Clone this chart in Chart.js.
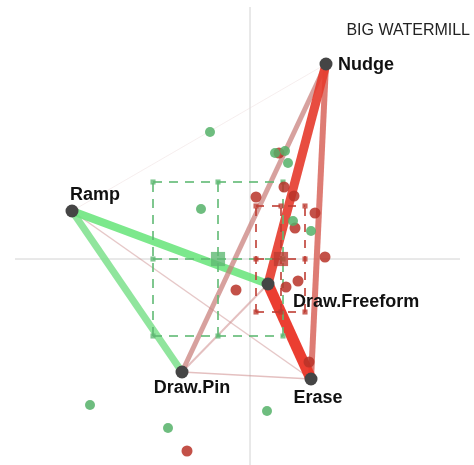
<!DOCTYPE html>
<html>
<head>
<meta charset="utf-8">
<script src="https://cdn.jsdelivr.net/npm/chart.js@4/dist/chart.umd.min.js"></script>
<style>
  html, body { margin: 0; padding: 0; background: #fff; }
  #wrap { width: 474px; height: 465px; }
</style>
</head>
<body>
<div id="wrap"><canvas id="c" width="474" height="465"></canvas></div>
<script>
// ---- data ----
const chartTitle = 'BIG WATERMILL';

const nodeNames = ['Nudge', 'Ramp', 'Draw.Freeform', 'Draw.Pin', 'Erase'];
const nodeX = [0.76, -1.78, 0.18, -0.68, 0.61];
const nodeY = [1.95, 0.48, -0.25, -1.13, -1.20];

// transitions between tools, back to front
const edgeFrom = ['Nudge', 'Ramp', 'Draw.Pin', 'Draw.Pin', 'Ramp', 'Ramp', 'Nudge', 'Nudge', 'Nudge', 'Draw.Freeform'];
const edgeTo   = ['Ramp', 'Erase', 'Erase', 'Draw.Freeform', 'Draw.Pin', 'Draw.Freeform', 'Draw.Pin', 'Erase', 'Draw.Freeform', 'Erase'];

// individual sessions
const greenX = [-0.40, -0.49, 0.25, 0.35, 0.38, 0.43, 0.61, -1.60, -0.82, 0.17];
const greenY = [1.27, 0.50, 1.06, 1.08, 0.96, 0.38, 0.28, -1.46, -1.69, -1.52];
const redX = [0.29, 0.34, 0.06, 0.44, 0.65, 0.45, 0.75, 0.48, 0.36, -0.14, 0.59, -0.63];
const redY = [1.06, 0.72, 0.62, 0.63, 0.46, 0.31, 0.02, -0.22, -0.28, -0.31, -1.03, -1.92];

// group means with spread: [green, red]
const groupCx = [-0.32, 0.31];
const groupCy = [0.00, 0.00];
const groupXlo = [-0.97, 0.06];
const groupXhi = [0.33, 0.55];
const groupYlo = [-0.77, -0.53];
const groupYhi = [0.77, 0.53];

// reference cross
const crossX = [-2.35, 2.10];
const crossY = [-2.10, 2.52];

// ---- styles ----
const edgeStyles = [
  { color: 'rgba(235,218,218,0.45)', width: 1 },
  { color: 'rgba(205,145,145,0.5)', width: 1.5 },
  { color: 'rgba(205,140,140,0.55)', width: 1.5 },
  { color: 'rgba(205,140,140,0.55)', width: 2 },
  { color: 'rgba(125,225,140,0.85)', width: 7 },
  { color: 'rgba(110,230,128,0.9)', width: 8 },
  { color: 'rgba(200,125,120,0.72)', width: 5 },
  { color: 'rgba(215,95,85,0.82)', width: 6 },
  { color: 'rgba(230,62,48,0.92)', width: 9 },
  { color: 'rgba(234,52,38,0.95)', width: 11 }
];
const groupColors = ['rgba(95,185,115,0.8)', 'rgba(190,60,50,0.8)'];
const groupDash = [[9, 7], [8, 8]];
// label placement relative to each node: dx, dy (px), alignment
const labelPlace = [
  { dx: 12, dy: 1, align: 'left' },
  { dx: -2, dy: -16, align: 'left' },
  { dx: 25, dy: 18, align: 'left' },
  { dx: 10, dy: 16, align: 'center' },
  { dx: 7, dy: 19, align: 'center' }
];

// ---- build datasets ----
const idx = n => nodeNames.indexOf(n);
const datasets = [];

datasets.push({
  showLine: true, data: [{ x: crossX[0], y: 0 }, { x: crossX[1], y: 0 }],
  borderColor: '#d2d2d2', borderWidth: 1, pointRadius: 0, order: 500
});
datasets.push({
  showLine: true, data: [{ x: 0, y: crossY[0] }, { x: 0, y: crossY[1] }],
  borderColor: '#d2d2d2', borderWidth: 1, pointRadius: 0, order: 500
});

edgeFrom.forEach((f, i) => {
  const a = idx(f), b = idx(edgeTo[i]);
  datasets.push({
    showLine: true,
    data: [{ x: nodeX[a], y: nodeY[a] }, { x: nodeX[b], y: nodeY[b] }],
    borderColor: edgeStyles[i].color, borderWidth: edgeStyles[i].width,
    pointRadius: 0, order: 300 - i
  });
});

groupCx.forEach((cx, g) => {
  const xs = [groupXlo[g], cx, groupXhi[g]];
  const ys = [groupYlo[g], groupCy[g], groupYhi[g]];
  ys.forEach(y => datasets.push({
    showLine: true, data: [{ x: xs[0], y }, { x: xs[2], y }],
    borderColor: groupColors[g], borderWidth: 2, borderDash: groupDash[g],
    pointRadius: 0, order: 100 - g
  }));
  xs.forEach(x => datasets.push({
    showLine: true, data: [{ x, y: ys[0] }, { x, y: ys[2] }],
    borderColor: groupColors[g], borderWidth: 2, borderDash: groupDash[g],
    pointRadius: 0, order: 100 - g
  }));
  const caps = [];
  xs.forEach((x, i) => ys.forEach((y, j) => { if (!(i === 1 && j === 1)) caps.push({ x, y }); }));
  datasets.push({
    data: caps, pointStyle: 'rect', pointRadius: 3.6, borderWidth: 0,
    backgroundColor: groupColors[g], order: 90 - g
  });
  datasets.push({
    data: [{ x: cx, y: groupCy[g] }], pointStyle: 'rect', pointRadius: 10, borderWidth: 0,
    backgroundColor: groupColors[g], order: 80 - g
  });
});

datasets.push({
  data: greenX.map((x, i) => ({ x, y: greenY[i] })),
  pointRadius: 5, borderWidth: 0, backgroundColor: 'rgba(85,178,105,0.85)', order: 20
});
datasets.push({
  data: redX.map((x, i) => ({ x, y: redY[i] })),
  pointRadius: 5.5, borderWidth: 0, backgroundColor: 'rgba(185,50,40,0.85)', order: 21
});

datasets.push({
  data: nodeX.map((x, i) => ({ x, y: nodeY[i] })),
  pointRadius: 6.5, borderWidth: 0, backgroundColor: '#454545', order: 0
});

// ---- text ----
const textPlugin = {
  id: 'nodeText',
  afterDraw(chart) {
    const { ctx, scales: { x, y } } = chart;
    ctx.save();
    ctx.fillStyle = '#111';
    ctx.font = 'bold 18px "Liberation Sans", Arial, sans-serif';
    ctx.textBaseline = 'middle';
    nodeNames.forEach((name, i) => {
      const p = labelPlace[i];
      ctx.textAlign = p.align;
      ctx.fillText(name, x.getPixelForValue(nodeX[i]) + p.dx, y.getPixelForValue(nodeY[i]) + p.dy);
    });
    ctx.font = '16px "Liberation Sans", Arial, sans-serif';
    ctx.fillStyle = '#222';
    ctx.textAlign = 'right';
    ctx.fillText(chartTitle, 470, 31);
    ctx.restore();
  }
};

new Chart(document.getElementById('c'), {
  type: 'scatter',
  data: { datasets },
  options: {
    responsive: false,
    animation: false,
    events: [],
    layout: { padding: 0, autoPadding: false },
    plugins: { legend: { display: false }, tooltip: { enabled: false } },
    scales: {
      x: { type: 'linear', min: -2.50, max: 2.24, display: false },
      y: { type: 'linear', min: -2.06, max: 2.59, display: false }
    }
  },
  plugins: [textPlugin]
});
</script>
</body>
</html>
